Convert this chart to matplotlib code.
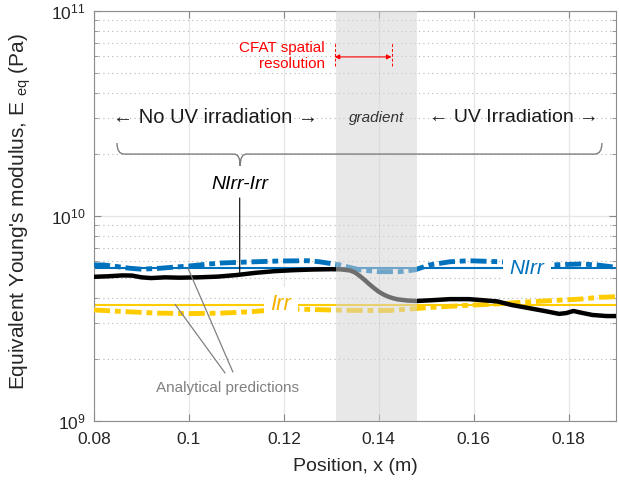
import numpy as np
import matplotlib
matplotlib.use('Agg')
import matplotlib.pyplot as plt
import matplotlib.transforms as mtransforms
from matplotlib.path import Path
from matplotlib.patches import PathPatch
from matplotlib.ticker import FuncFormatter, LogLocator, NullFormatter

plt.rcParams['font.family'] = ['Liberation Sans', 'DejaVu Sans']
plt.rcParams['mathtext.default'] = 'regular'

# measured modulus, NIrr-Irr specimen (black)
x_mix = [0.080, 0.083, 0.086, 0.088, 0.090, 0.092, 0.095, 0.098, 0.102, 0.106,
         0.110, 0.114, 0.118, 0.122, 0.126, 0.130, 0.132, 0.134, 0.135, 0.136,
         0.137, 0.138, 0.139, 0.140, 0.141, 0.142, 0.143, 0.144, 0.146, 0.148,
         0.151, 0.155, 0.159, 0.1615, 0.165, 0.168, 0.172, 0.1755, 0.178, 0.1795,
         0.181, 0.1825, 0.185, 0.188, 0.190]
E_mix = [5.05, 5.08, 5.13, 5.12, 5.02, 4.98, 5.02, 5.00, 5.02, 5.06,
         5.15, 5.28, 5.38, 5.44, 5.48, 5.50, 5.49, 5.42, 5.30, 5.10,
         4.88, 4.65, 4.45, 4.27, 4.14, 4.04, 3.97, 3.92, 3.87, 3.85,
         3.88, 3.93, 3.93, 3.89, 3.83, 3.68, 3.54, 3.42, 3.33, 3.36,
         3.44, 3.38, 3.29, 3.25, 3.25]

# measured modulus, NIrr specimen (blue)
x_nirr = [0.080, 0.082, 0.085, 0.0875, 0.090, 0.0935, 0.0965, 0.100, 0.1035, 0.107,
          0.113, 0.119, 0.125, 0.1275, 0.1318, 0.136, 0.140, 0.1444, 0.1476, 0.1507,
          0.155, 0.159, 0.1655, 0.170, 0.1765, 0.1825, 0.186, 0.190]
E_nirr = [5.77, 5.77, 5.66, 5.56, 5.50, 5.55, 5.62, 5.70, 5.81, 5.90,
          5.97, 6.03, 6.05, 5.98, 5.77, 5.46, 5.35, 5.35, 5.46, 5.77,
          5.98, 6.05, 5.98, 5.90, 5.77, 5.83, 5.77, 5.62]

# measured modulus, Irr specimen (yellow)
x_irr = [0.080, 0.086, 0.093, 0.100, 0.107, 0.113, 0.117, 0.1234, 0.1297, 0.136,
         0.142, 0.1476, 0.1507, 0.1592, 0.1655, 0.1697, 0.1760, 0.1823, 0.1865, 0.190]
E_irr = [3.48, 3.42, 3.36, 3.34, 3.36, 3.41, 3.47, 3.51, 3.48, 3.46,
         3.46, 3.53, 3.58, 3.67, 3.73, 3.79, 3.86, 3.93, 4.01, 4.04]

# analytical predictions
E_nirr_an = 5.56
E_irr_an = 3.70

x_grad = [0.131, 0.148]
x_cfat = [0.1307, 0.1427]

blue = '#0072BD'
yellow = '#FFCC00'

fig = plt.figure(figsize=(6.19, 4.82), dpi=100)
ax = fig.add_axes([0.1519, 0.1266, 0.8433, 0.8506])

ax.axhline(E_nirr_an * 1e9, color=blue, lw=1.5, zorder=2)
ax.axhline(E_irr_an * 1e9, color=yellow, lw=1.5, zorder=2)
ax.plot(x_nirr, np.array(E_nirr) * 1e9, color=blue, lw=3.5,
        dashes=(3.3, 1.0, 1.2, 1.0), zorder=3)
ax.plot(x_irr, np.array(E_irr) * 1e9, color=yellow, lw=3.5,
        dashes=(3.3, 1.0, 1.2, 1.0), zorder=3)
ax.plot(x_mix, np.array(E_mix) * 1e9, color='k', lw=3.2, zorder=4)

# gradient zone drawn over the curves
ax.axvspan(x_grad[0], x_grad[1], color='#d4d4d4', alpha=0.52, lw=0, zorder=5)

ax.set_yscale('log')
ax.set_xlim(0.08, 0.19)
ax.set_ylim(1e9, 1e11)
ax.set_xticks([0.08, 0.10, 0.12, 0.14, 0.16, 0.18])
ax.xaxis.set_major_formatter(FuncFormatter(lambda v, p: '%g' % round(v, 3)))
ax.yaxis.set_major_locator(LogLocator(base=10))
ax.yaxis.set_minor_locator(LogLocator(base=10, subs=np.arange(2, 10)))
ax.yaxis.set_minor_formatter(NullFormatter())

ax.set_axisbelow(True)
ax.grid(True, which='major', axis='both', color='#e6e6e6', lw=0.9)
ax.grid(True, which='minor', axis='y', color='#b5b5b5', lw=0.8, linestyle=(0, (1, 3)))
ax.tick_params(which='both', direction='in', top=True, right=True, color='#888888',
               labelcolor='#262626', labelsize=12.5)
ax.tick_params(which='major', length=5)
ax.tick_params(axis='x', which='major', pad=8)
ax.tick_params(axis='y', which='major', pad=6)
ax.tick_params(which='minor', length=3)
for s in ax.spines.values():
    s.set_color('#8c8c8c')

ax.set_xlabel('Position, x (m)', fontsize=14, color='#262626', labelpad=8)
ax.set_ylabel("Equivalent Young's modulus, E $_{eq}$ (Pa)", fontsize=15, color='#262626')
ax.yaxis.set_label_coords(-0.117, 0.51)

# region labels
ax.text(0.232, 0.739, '\u2190 No UV irradiation \u2192', transform=ax.transAxes,
        ha='center', va='center', fontsize=14.5, color='#1a1a1a', zorder=7)
ax.text(0.805, 0.739, '\u2190 UV Irradiation \u2192', transform=ax.transAxes,
        ha='center', va='center', fontsize=14, color='#1a1a1a', zorder=7)
ax.text(0.542, 0.739, 'gradient', transform=ax.transAxes, ha='center', va='center',
        fontsize=11, style='italic', color='#333333', zorder=7)

# brace
P = Path
verts = [(0.044, 0.678), (0.044, 0.651), (0.058, 0.651), (0.268, 0.651),
         (0.280, 0.651), (0.280, 0.622), (0.280, 0.651), (0.292, 0.651),
         (0.959, 0.651), (0.973, 0.651), (0.973, 0.678)]
codes = [P.MOVETO, P.CURVE3, P.CURVE3, P.LINETO, P.CURVE3, P.CURVE3,
         P.CURVE3, P.CURVE3, P.LINETO, P.CURVE3, P.CURVE3]
ax.add_patch(PathPatch(Path(verts, codes), transform=ax.transAxes, fill=False,
                       edgecolor='#7f7f7f', lw=1.0, zorder=7))

ax.text(0.280, 0.576, 'NIrr-Irr', transform=ax.transAxes, ha='center', va='center',
        fontsize=14, style='italic', color='k', zorder=7)
ax.annotate('', xy=(0.1107, 5.2e9), xytext=(0.1107, 0.544),
            textcoords=('data', 'axes fraction'),
            arrowprops=dict(arrowstyle='-', color='k', lw=0.8, shrinkA=0, shrinkB=0),
            zorder=7)

# curve labels
box = dict(boxstyle='square,pad=0.3', fc='white', ec='none')
ax.text(0.1712, E_nirr_an * 1e9, 'NIrr', ha='center', va='center', fontsize=15,
        style='italic', color=blue, bbox=box, zorder=6)
ax.text(0.1194, E_irr_an * 1e9, 'Irr', ha='center', va='center', fontsize=16,
        style='italic', color='#F4B400', bbox=box, zorder=6)

# CFAT spatial resolution
trans = mtransforms.blended_transform_factory(ax.transData, ax.transAxes)
for xv in x_cfat:
    ax.plot([xv, xv], [0.866, 0.922], transform=trans, color='red', lw=0.7,
            linestyle=(0, (3, 2)), zorder=7)
ax.annotate('', xy=(x_cfat[0], 0.888), xytext=(x_cfat[1], 0.888),
            xycoords=('data', 'axes fraction'), textcoords=('data', 'axes fraction'),
            arrowprops=dict(arrowstyle='<|-|>', color='red', lw=0.8, shrinkA=0, shrinkB=0,
                            mutation_scale=7), zorder=7)
ax.text(0.4425, 0.890, 'CFAT spatial\nresolution', transform=ax.transAxes, ha='right',
        va='center', multialignment='right', fontsize=11, color='red',
        linespacing=1.25, zorder=7)

# analytical predictions callout
ax.text(0.255, 0.080, 'Analytical predictions', transform=ax.transAxes, ha='center',
        va='center', fontsize=11, color='#808080', zorder=7)
ax.annotate('', xy=(0.0998, E_nirr_an * 1e9), xytext=(0.266, 0.1195),
            textcoords='axes fraction',
            arrowprops=dict(arrowstyle='-', color='#808080', lw=0.9, shrinkA=0, shrinkB=0),
            zorder=7)
ax.annotate('', xy=(0.0971, E_irr_an * 1e9), xytext=(0.251, 0.117),
            textcoords='axes fraction',
            arrowprops=dict(arrowstyle='-', color='#808080', lw=0.9, shrinkA=0, shrinkB=0),
            zorder=7)

fig.savefig('out.png', dpi=100)
